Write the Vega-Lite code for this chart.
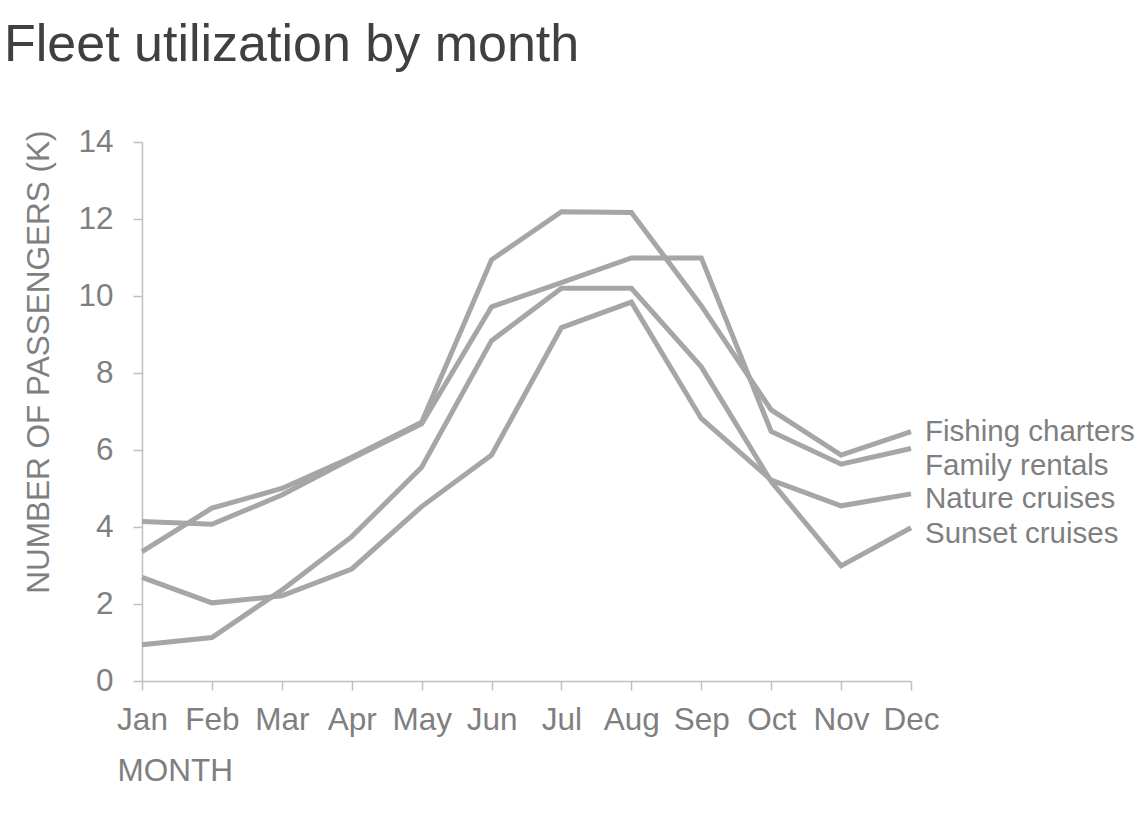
{
  "$schema": "https://vega.github.io/schema/vega-lite/v6.json",
  "width": 769,
  "height": 539,
  "autosize": "none",
  "padding": {"left": 142, "top": 142, "right": 234, "bottom": 135},
  "background": "white",
  "title": {
    "text": "Fleet utilization by month",
    "anchor": "start",
    "frame": "group",
    "dx": -138,
    "offset": 13,
    "baseline": "alphabetic",
    "font": "Liberation Sans",
    "fontSize": 52,
    "fontWeight": "normal",
    "color": "#404040"
  },
  "config": {
    "view": {"stroke": null},
    "font": "Liberation Sans",
    "axis": {
      "domainColor": "#bfbfbf",
      "tickColor": "#bfbfbf",
      "domainWidth": 1.5,
      "tickWidth": 1.5,
      "tickSize": 9,
      "labelColor": "#7f7f7f",
      "titleColor": "#7f7f7f",
      "labelFont": "Liberation Sans",
      "titleFont": "Liberation Sans",
      "labelFontSize": 31.5,
      "titleFontSize": 31.5,
      "titleFontWeight": "normal",
      "grid": false
    }
  },
  "data": {
    "values": [
      {"month": "Jan", "series": "Fishing charters", "value": 3.36},
      {"month": "Feb", "series": "Fishing charters", "value": 4.49},
      {"month": "Mar", "series": "Fishing charters", "value": 5.0},
      {"month": "Apr", "series": "Fishing charters", "value": 5.81},
      {"month": "May", "series": "Fishing charters", "value": 6.72},
      {"month": "Jun", "series": "Fishing charters", "value": 10.94},
      {"month": "Jul", "series": "Fishing charters", "value": 12.19},
      {"month": "Aug", "series": "Fishing charters", "value": 12.17},
      {"month": "Sep", "series": "Fishing charters", "value": 9.75},
      {"month": "Oct", "series": "Fishing charters", "value": 7.04},
      {"month": "Nov", "series": "Fishing charters", "value": 5.87},
      {"month": "Dec", "series": "Fishing charters", "value": 6.48},
      {"month": "Jan", "series": "Family rentals", "value": 4.14},
      {"month": "Feb", "series": "Family rentals", "value": 4.07},
      {"month": "Mar", "series": "Family rentals", "value": 4.83},
      {"month": "Apr", "series": "Family rentals", "value": 5.78},
      {"month": "May", "series": "Family rentals", "value": 6.68},
      {"month": "Jun", "series": "Family rentals", "value": 9.72},
      {"month": "Jul", "series": "Family rentals", "value": 10.35},
      {"month": "Aug", "series": "Family rentals", "value": 10.99},
      {"month": "Sep", "series": "Family rentals", "value": 10.99},
      {"month": "Oct", "series": "Family rentals", "value": 6.48},
      {"month": "Nov", "series": "Family rentals", "value": 5.63},
      {"month": "Dec", "series": "Family rentals", "value": 6.04},
      {"month": "Jan", "series": "Nature cruises", "value": 2.69},
      {"month": "Feb", "series": "Nature cruises", "value": 2.03},
      {"month": "Mar", "series": "Nature cruises", "value": 2.21},
      {"month": "Apr", "series": "Nature cruises", "value": 2.91},
      {"month": "May", "series": "Nature cruises", "value": 4.53},
      {"month": "Jun", "series": "Nature cruises", "value": 5.87},
      {"month": "Jul", "series": "Nature cruises", "value": 9.18},
      {"month": "Aug", "series": "Nature cruises", "value": 9.84},
      {"month": "Sep", "series": "Nature cruises", "value": 6.82},
      {"month": "Oct", "series": "Nature cruises", "value": 5.22},
      {"month": "Nov", "series": "Nature cruises", "value": 4.55},
      {"month": "Dec", "series": "Nature cruises", "value": 4.86},
      {"month": "Jan", "series": "Sunset cruises", "value": 0.94},
      {"month": "Feb", "series": "Sunset cruises", "value": 1.13},
      {"month": "Mar", "series": "Sunset cruises", "value": 2.36},
      {"month": "Apr", "series": "Sunset cruises", "value": 3.75},
      {"month": "May", "series": "Sunset cruises", "value": 5.55},
      {"month": "Jun", "series": "Sunset cruises", "value": 8.84},
      {"month": "Jul", "series": "Sunset cruises", "value": 10.2},
      {"month": "Aug", "series": "Sunset cruises", "value": 10.2},
      {"month": "Sep", "series": "Sunset cruises", "value": 8.16},
      {"month": "Oct", "series": "Sunset cruises", "value": 5.18},
      {"month": "Nov", "series": "Sunset cruises", "value": 2.99},
      {"month": "Dec", "series": "Sunset cruises", "value": 3.98}
    ]
  },
  "encoding": {
    "x": {
      "field": "month",
      "type": "ordinal",
      "scale": {"type": "point", "padding": 0, "domain": ["Jan", "Feb", "Mar", "Apr", "May", "Jun", "Jul", "Aug", "Sep", "Oct", "Nov", "Dec"]},
      "axis": {
        "title": "MONTH",
        "labelAngle": 0,
        "labelPadding": 14,
        "titleAnchor": null,
        "titleAlign": "left",
        "titleBaseline": "alphabetic",
        "titleX": -25,
        "titleY": 99
      }
    },
    "y": {
      "field": "value",
      "type": "quantitative",
      "scale": {"domain": [0, 14], "nice": false},
      "axis": {
        "title": "NUMBER OF PASSENGERS (K)",
        "values": [0, 2, 4, 6, 8, 10, 12, 14],
        "labelPadding": 20,
        "titleAngle": 270,
        "titleAnchor": null,
        "titleAlign": "right",
        "titleBaseline": "alphabetic",
        "titleX": -94,
        "titleY": -12
      }
    }
  },
  "layer": [
    {
      "mark": {"type": "line", "color": "#a6a6a6", "strokeWidth": 5, "strokeJoin": "miter"},
      "encoding": {"detail": {"field": "series"}}
    },
    {
      "transform": [{"filter": "datum.month === 'Dec' && datum.series === 'Fishing charters'"}],
      "mark": {"type": "text", "align": "left", "baseline": "middle", "dx": 14, "dy": 0, "fontSize": 29.5, "color": "#7f7f7f", "font": "Liberation Sans"},
      "encoding": {"text": {"field": "series"}}
    },
    {
      "transform": [{"filter": "datum.month === 'Dec' && datum.series === 'Family rentals'"}],
      "mark": {"type": "text", "align": "left", "baseline": "middle", "dx": 14, "dy": 17.5, "fontSize": 29.5, "color": "#7f7f7f", "font": "Liberation Sans"},
      "encoding": {"text": {"field": "series"}}
    },
    {
      "transform": [{"filter": "datum.month === 'Dec' && datum.series === 'Nature cruises'"}],
      "mark": {"type": "text", "align": "left", "baseline": "middle", "dx": 14, "dy": 5.5, "fontSize": 29.5, "color": "#7f7f7f", "font": "Liberation Sans"},
      "encoding": {"text": {"field": "series"}}
    },
    {
      "transform": [{"filter": "datum.month === 'Dec' && datum.series === 'Sunset cruises'"}],
      "mark": {"type": "text", "align": "left", "baseline": "middle", "dx": 14, "dy": 6.5, "fontSize": 29.5, "color": "#7f7f7f", "font": "Liberation Sans"},
      "encoding": {"text": {"field": "series"}}
    }
  ]
}
